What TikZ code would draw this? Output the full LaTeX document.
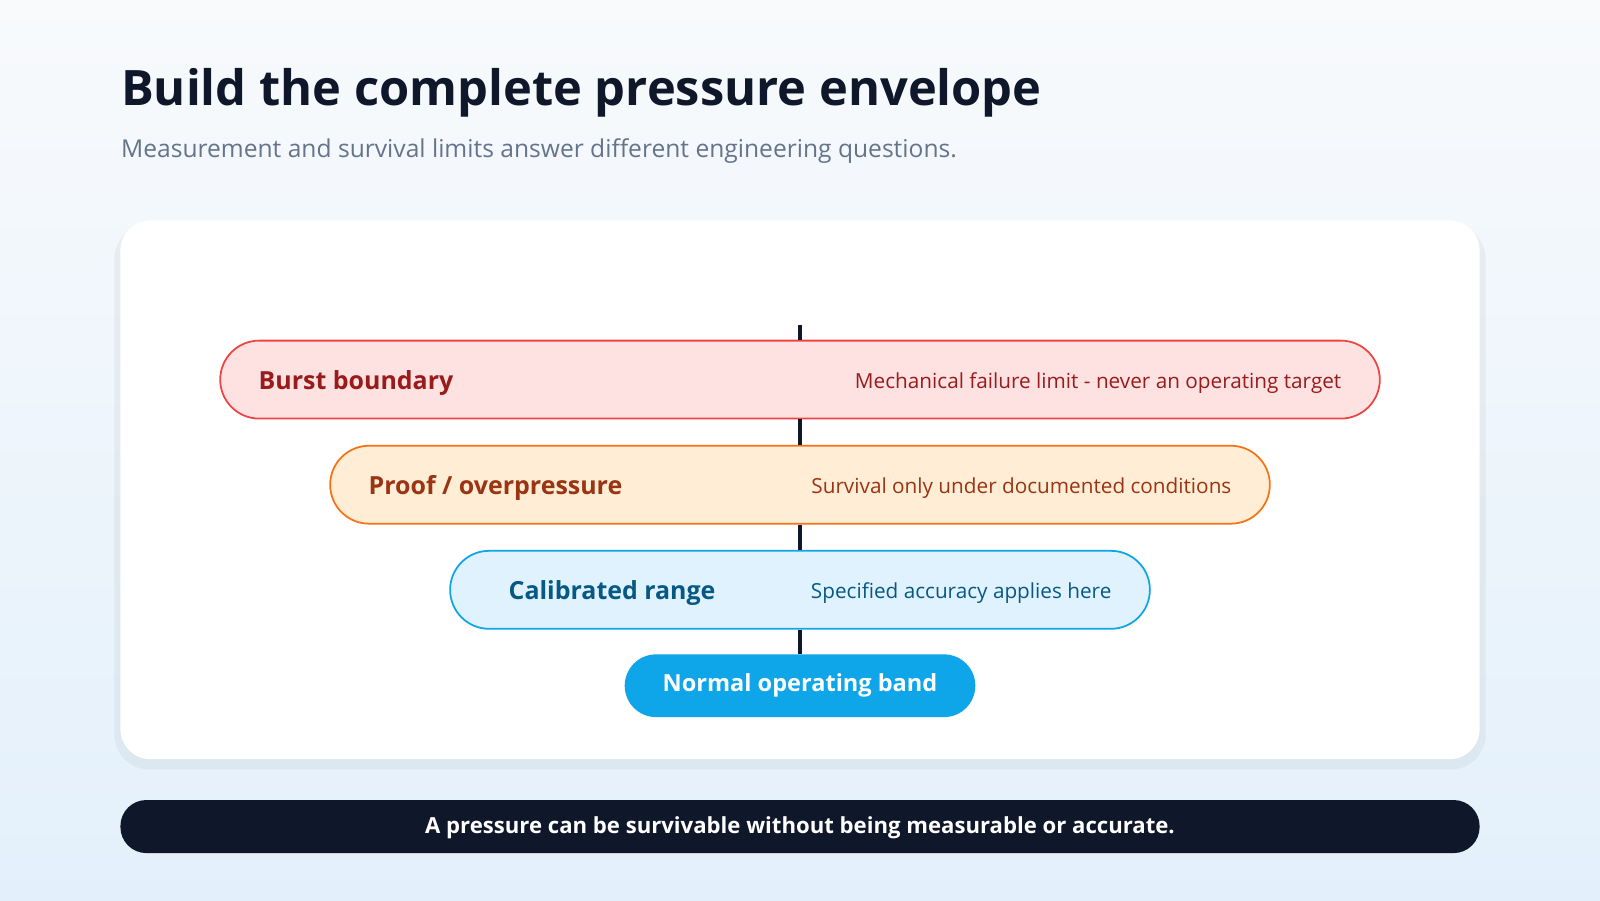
\documentclass[tikz,border=0pt]{standalone}
\usepackage{fontspec}
\setmainfont{Open Sans}
\usetikzlibrary{positioning,shapes.misc}
\definecolor{ink}{HTML}{0F172A}
\definecolor{subgrey}{HTML}{64748B}
\definecolor{burstfill}{HTML}{FEE2E2}
\definecolor{burstline}{HTML}{EF4444}
\definecolor{bursttext}{HTML}{991B1B}
\definecolor{prooffill}{HTML}{FFEDD5}
\definecolor{proofline}{HTML}{F97316}
\definecolor{prooftext}{HTML}{9A3412}
\definecolor{calfill}{HTML}{E0F2FE}
\definecolor{calline}{HTML}{0EA5E9}
\definecolor{caltext}{HTML}{075985}
\definecolor{bgtop}{HTML}{F8FAFC}
\definecolor{bgbot}{HTML}{E3F0FB}
\tikzset{
  band/.style={rounded rectangle, draw, line width=0.5pt, minimum height=0.78cm, inner sep=0pt},
  bandtitle/.style={anchor=west, yshift=-0.03cm, font=\fontsize{7.1}{9}\selectfont\bfseries},
  banddesc/.style={anchor=east, yshift=-0.03cm, font=\fontsize{5.9}{8}\selectfont},
  connector/.style={line width=0.9pt, draw=ink}
}
\begin{document}
\begin{tikzpicture}[x=0.010204cm, y=-0.010204cm]
  \useasboundingbox (0,0) rectangle (1568,882);
  \shade[top color=bgtop, bottom color=bgbot] (0,0) rectangle (1568,882);
  % title block
  \node (title) [anchor=base west, inner sep=0pt, text=ink, font=\fontsize{13.9}{18}\selectfont\bfseries] at (118,103) {Build the complete pressure envelope};
  \node (subtitle) [anchor=base west, inner sep=0pt, text=subgrey, font=\fontsize{7.0}{9}\selectfont] at (118,154) {Measurement and survival limits answer different engineering questions.};
  % card
  \fill[black!40!calfill, opacity=0.1, rounded corners=0.35cm] (112,220) rectangle (1456,754);
  \fill[white, rounded corners=0.3cm] (118,216) rectangle (1450,744);
  % bands
  \node (burst) [band, fill=burstfill, draw=burstline, minimum width=11.6cm] at (784,372) {};
  \node (proof) [band, fill=prooffill, draw=proofline, minimum width=9.4cm] at (784,475) {};
  \node (cal) [band, fill=calfill, draw=calline, minimum width=7.0cm] at (784,578) {};
  \node (normal) [band, fill=calline, draw=calline, minimum width=3.49cm, minimum height=0.61cm, text=white, font=\fontsize{6.7}{9}\selectfont\bfseries] at (784,672) {Normal operating band};
  \node [bandtitle, text=bursttext] at ([xshift=0.27cm]burst.west) {Burst boundary};
  \node [banddesc, text=bursttext] at ([xshift=-0.27cm]burst.east) {Mechanical failure limit - never an operating target};
  \node [bandtitle, text=prooftext] at ([xshift=0.27cm]proof.west) {Proof / overpressure};
  \node [banddesc, text=prooftext] at ([xshift=-0.27cm]proof.east) {Survival only under documented conditions};
  \node [bandtitle, text=caltext] at ([xshift=0.47cm]cal.west) {Calibrated range};
  \node [banddesc, text=caltext] at ([xshift=-0.27cm]cal.east) {Specified accuracy applies here};
  % axis
  \coordinate (axistop) at (784,318);
  \draw [connector] (axistop) -- (burst.north);
  \draw [connector] (burst.south) -- (proof.north);
  \draw [connector] (proof.south) -- (cal.north);
  \draw [connector] (cal.south) -- (normal.north);
  % takeaway bar
  \fill[ink, rounded corners=0.26cm] (118,784) rectangle (1450,836);
  \node (takeaway) [text=white, font=\fontsize{6.3}{8}\selectfont\bfseries] at (784,811) {A pressure can be survivable without being measurable or accurate.};
\end{tikzpicture}
\end{document}
